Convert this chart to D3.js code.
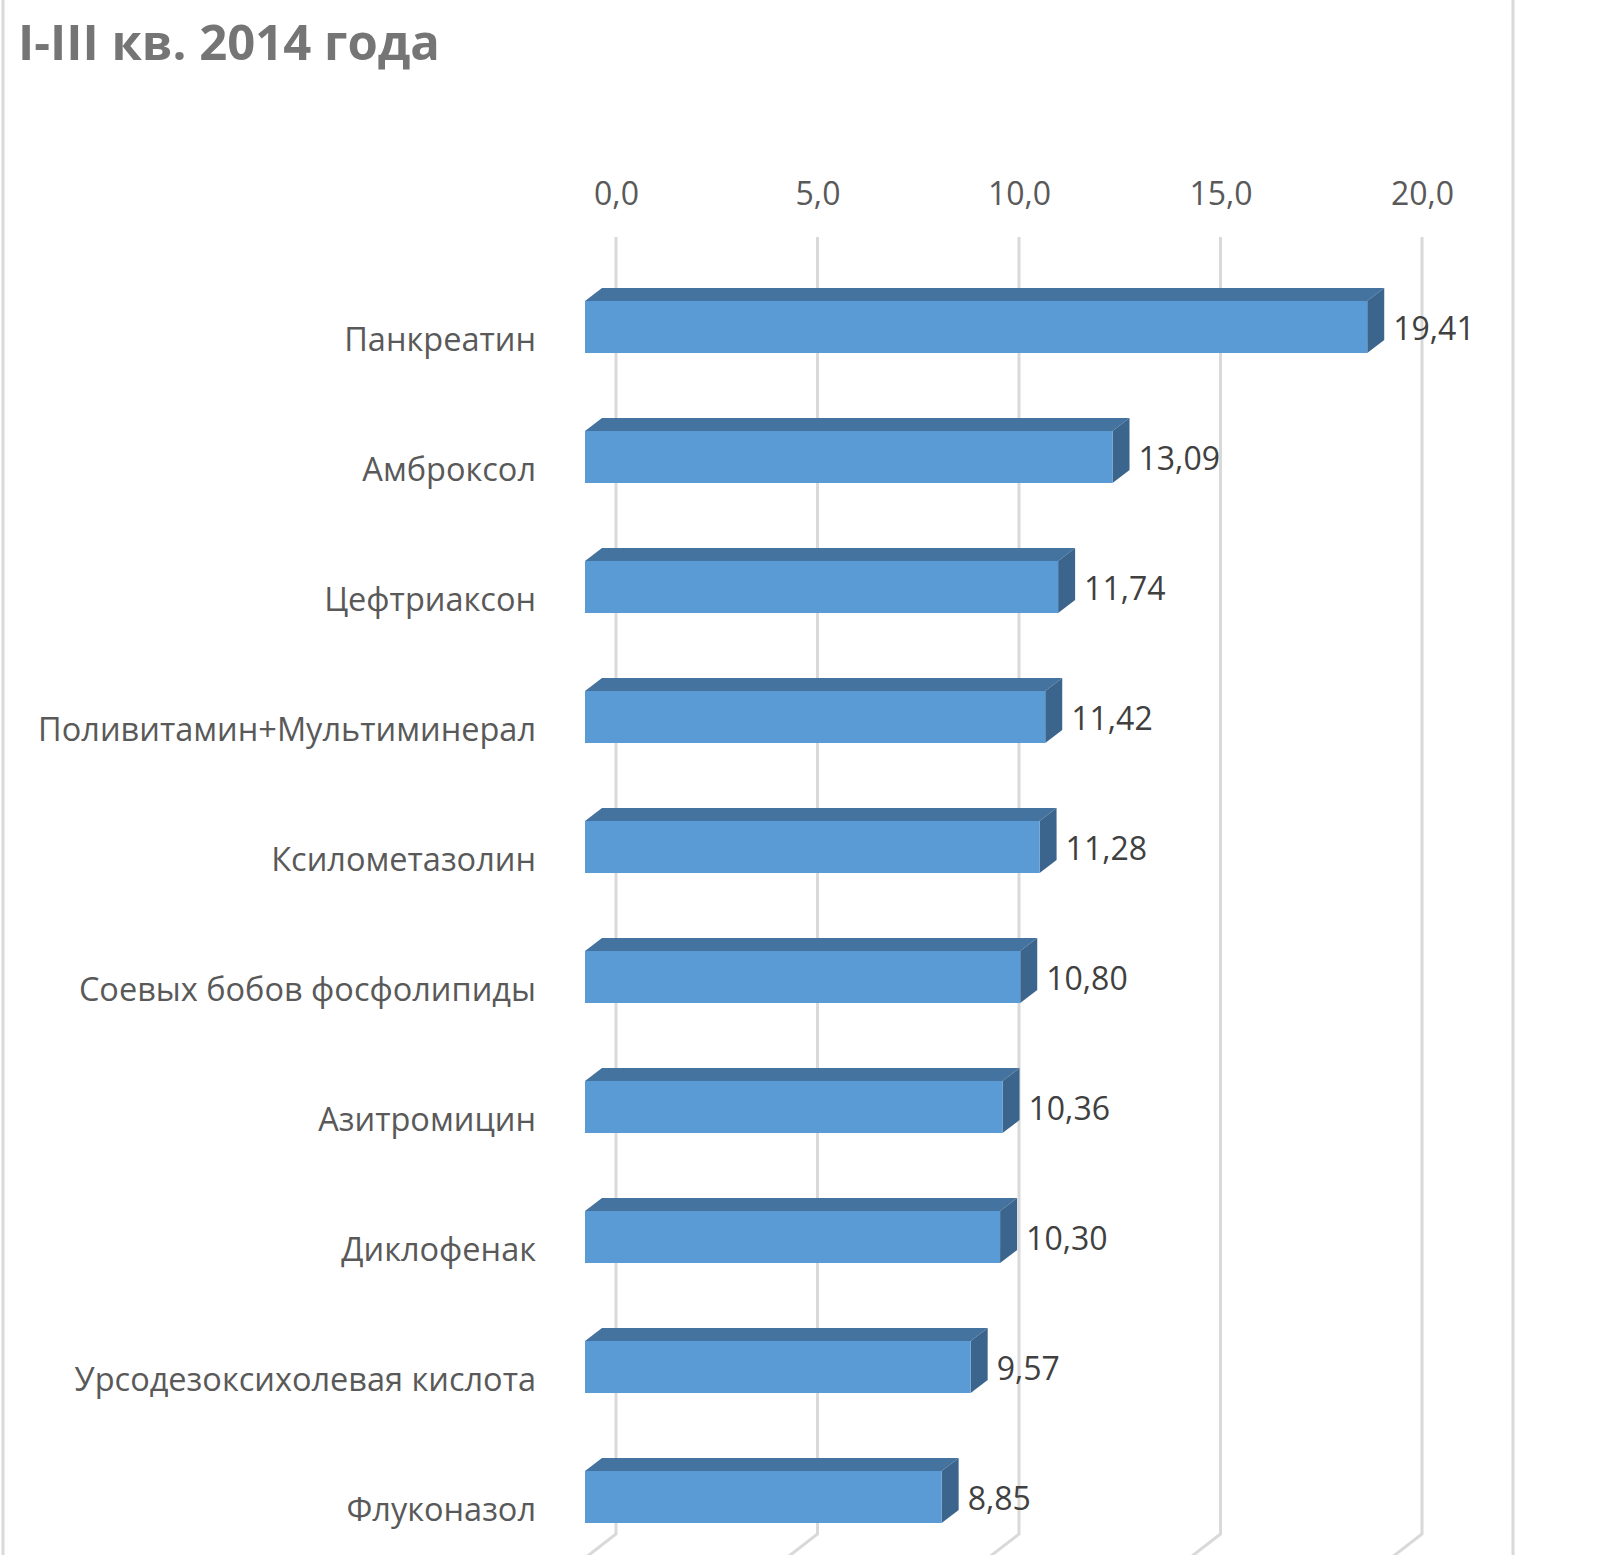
<!DOCTYPE html>
<html>
<head>
<meta charset="utf-8">
<script src="https://cdn.jsdelivr.net/npm/d3@7.9.0/dist/d3.min.js"></script>
<style>
  body { margin: 0; background: #fff; }
  svg { display: block; font-family: "Open Sans", sans-serif; }
</style>
</head>
<body>
<svg id="chart" width="1615" height="1555"></svg>
<script>
// data
const categories = [
  'Панкреатин',
  'Амброксол',
  'Цефтриаксон',
  'Поливитамин+Мультиминерал',
  'Ксилометазолин',
  'Соевых бобов фосфолипиды',
  'Азитромицин',
  'Диклофенак',
  'Урсодезоксихолевая кислота',
  'Флуконазол'
];
const values = [19.41, 13.09, 11.74, 11.42, 11.28, 10.80, 10.36, 10.30, 9.57, 8.85];
const tickValues = [0, 5, 10, 15, 20];
const title = 'I-III кв. 2014 года';

const W = 1615, H = 1555;
// 3d offsets
const depth = { dx: 17, dy: -13 };   // bar depth
const wall = { dx: 31, dy: -24 };    // back wall behind bar fronts
const wallTop = 237, wallBottom = 1534;

const ru = d3.formatLocale({ decimal: ',', thousands: ' ', grouping: [3], currency: ['', ''] });
const fmtTick = ru.format('.1f');
const fmtVal = ru.format('.2f');

const svg = d3.select('#chart');

svg.append('rect').attr('width', W).attr('height', H).attr('fill', '#fff');

// chart border (left / right)
svg.selectAll('line.border')
  .data([3, 1513])
  .join('line')
  .attr('class', 'border')
  .attr('x1', d => d).attr('x2', d => d)
  .attr('y1', 0).attr('y2', H)
  .attr('stroke', '#d9d9d9')
  .attr('stroke-width', 3);

// title
svg.append('text')
  .attr('x', 18)
  .attr('y', 60)
  .attr('font-size', 49)
  .attr('font-weight', 700)
  .attr('fill', '#757575')
  .text(title);

const x = d3.scaleLinear().domain([0, 20]).range([585, 585 + 20 * 40.3]);
const xWall = x.copy().range(x.range().map(d => d + wall.dx));

const y = d3.scaleBand()
  .domain(categories)
  .range([262, 1562])
  .paddingInner(0.6)
  .paddingOuter(0.3);

// gridlines on back wall, bending onto the floor
svg.append('g')
  .selectAll('path')
  .data(tickValues)
  .join('path')
  .attr('d', d => {
    const gx = xWall(d);
    return `M${gx},${wallTop}V${wallBottom}L${gx - wall.dx * 1.6},${wallBottom - wall.dy * 1.6}`;
  })
  .attr('fill', 'none')
  .attr('stroke', '#d9d9d9')
  .attr('stroke-width', 3);

// value axis on top
const axis = svg.append('g')
  .attr('transform', 'translate(0,205)')
  .call(d3.axisTop(xWall).tickValues(tickValues).tickFormat(fmtTick).tickSize(0).tickPadding(0));
axis.select('.domain').remove();
axis.selectAll('text')
  .attr('font-family', '"Open Sans", sans-serif')
  .attr('font-size', 32)
  .attr('fill', '#595959')
  .attr('dy', 0);

// bars
const rows = categories.map((c, i) => ({ name: c, value: values[i] }));
const bar = svg.append('g').selectAll('g')
  .data(rows)
  .join('g');

const bh = y.bandwidth();
const x0 = x(0);

bar.append('path')
  .attr('d', d => {
    const t = y(d.name), x1 = x(d.value);
    return `M${x0},${t}L${x0 + depth.dx},${t + depth.dy}L${x1 + depth.dx},${t + depth.dy}L${x1},${t}Z`;
  })
  .attr('fill', '#44739f');

bar.append('path')
  .attr('d', d => {
    const t = y(d.name), x1 = x(d.value);
    return `M${x1},${t}L${x1 + depth.dx},${t + depth.dy}L${x1 + depth.dx},${t + bh + depth.dy}L${x1},${t + bh}Z`;
  })
  .attr('fill', '#3b658c');

bar.append('rect')
  .attr('x', x0)
  .attr('y', d => y(d.name))
  .attr('width', d => x(d.value) - x0)
  .attr('height', bh)
  .attr('fill', '#5b9bd5');

// value labels
bar.append('text')
  .attr('x', d => x(d.value) + depth.dx + 9)
  .attr('y', d => y(d.name) + bh / 2)
  .attr('dominant-baseline', 'central')
  .attr('font-size', 32)
  .attr('fill', '#404040')
  .text(d => fmtVal(d.value));

// category labels
bar.append('text')
  .attr('x', 536)
  .attr('y', d => y(d.name) + bh / 2 + 11)
  .attr('dominant-baseline', 'central')
  .attr('text-anchor', 'end')
  .attr('font-size', 32.5)
  .attr('fill', '#595959')
  .text(d => d.name);
</script>
</body>
</html>
